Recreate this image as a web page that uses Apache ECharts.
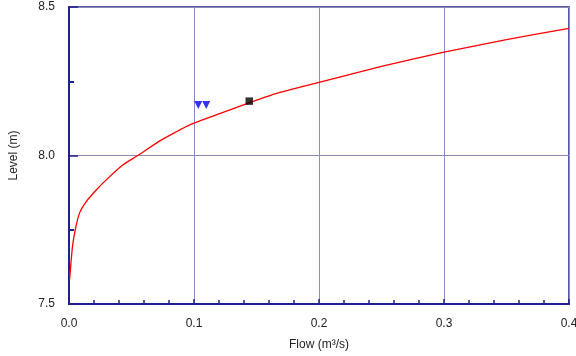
<!DOCTYPE html>
<html><head><meta charset="utf-8">
<script src="https://cdn.jsdelivr.net/npm/echarts@6/dist/echarts.min.js"></script>
<style>html,body{margin:0;padding:0;background:#fff}#c{width:576px;height:356px}</style>
</head><body><div id="c"></div>
<script>
// Rating curve (flow m3/s, level m)
const curveFlow  = [0.0005, 0.0012, 0.0018, 0.0028, 0.005, 0.0084, 0.0138, 0.0218, 0.0298, 0.043, 0.055, 0.073, 0.085, 0.097, 0.12, 0.144, 0.166, 0.2, 0.25, 0.3, 0.35, 0.4];
const curveLevel = [7.583, 7.62, 7.65, 7.694, 7.75, 7.806, 7.845, 7.884, 7.918, 7.968, 8.0, 8.05, 8.078, 8.104, 8.14, 8.177, 8.209, 8.246, 8.30, 8.348, 8.39, 8.428];
// Observations (triangles)
const obsFlow  = [0.1034, 0.1098];
const obsLevel = [8.170, 8.170];
// Current point (square)
const curFlow  = [0.1442];
const curLevel = [8.183];
const xTicks = [0.0, 0.1, 0.2, 0.3, 0.4];
const yTicks = [7.5, 8.0, 8.5];

const zip = (a, b) => a.map((v, i) => [v, b[i]]);
const navy = '#1f1f8f';
const chart = echarts.init(document.getElementById('c'));
chart.setOption({
  animation: false,
  grid: {left: 69, right: 7, top: 7, bottom: 52, show: true, borderColor: navy, borderWidth: 1.5,
         backgroundColor: '#fff', containLabel: false, outerBoundsMode: 'none'},
  xAxis: {
    type: 'value', min: xTicks[0], max: xTicks[xTicks.length - 1], interval: 0.1,
    name: 'Flow (m³/s)', nameLocation: 'middle', nameGap: 35,
    nameTextStyle: {fontFamily: 'Liberation Sans', fontSize: 12, color: '#222'},
    axisLine: {lineStyle: {color: navy, width: 2}},
    axisTick: {inside: true, length: 5, lineStyle: {color: navy, width: 1.5}},
    minorTick: {show: true, splitNumber: 5, length: 4, lineStyle: {color: navy, width: 1.5}},
    splitLine: {show: true, lineStyle: {color: '#8a8ac4', width: 1}},
    axisLabel: {margin: 14, fontFamily: 'Liberation Sans', fontSize: 12, color: '#222', formatter: v => v.toFixed(1)}
  },
  yAxis: {
    type: 'value', min: yTicks[0], max: yTicks[yTicks.length - 1], interval: 0.5,
    name: 'Level (m)', nameLocation: 'middle', nameGap: 49,
    nameTextStyle: {fontFamily: 'Liberation Sans', fontSize: 12, color: '#222'},
    axisLine: {lineStyle: {color: navy, width: 2}},
    axisTick: {inside: true, length: 9, lineStyle: {color: navy, width: 1.5}},
    minorTick: {show: true, splitNumber: 2, length: 5, lineStyle: {color: navy, width: 2}},
    splitLine: {show: true, lineStyle: {color: '#8a8ab0', width: 1}},
    axisLabel: {margin: 14, fontFamily: 'Liberation Sans', fontSize: 12, color: '#222', formatter: v => v.toFixed(1)}
  },
  series: [
    {type: 'line', data: zip(curveFlow, curveLevel), showSymbol: false, symbol: 'none', smooth: 0.2,
     lineStyle: {color: '#ff0000', width: 1.3}, z: 3},
    {type: 'scatter', data: zip(obsFlow, obsLevel), symbol: 'triangle', symbolRotate: 180, symbolSize: [8, 8],
     itemStyle: {color: '#0000ee'}, z: 4},
    {type: 'scatter', data: zip(curFlow, curLevel), symbol: 'rect', symbolSize: 7.5,
     itemStyle: {color: '#000000'}, z: 5}
  ]
});
</script></body></html>
